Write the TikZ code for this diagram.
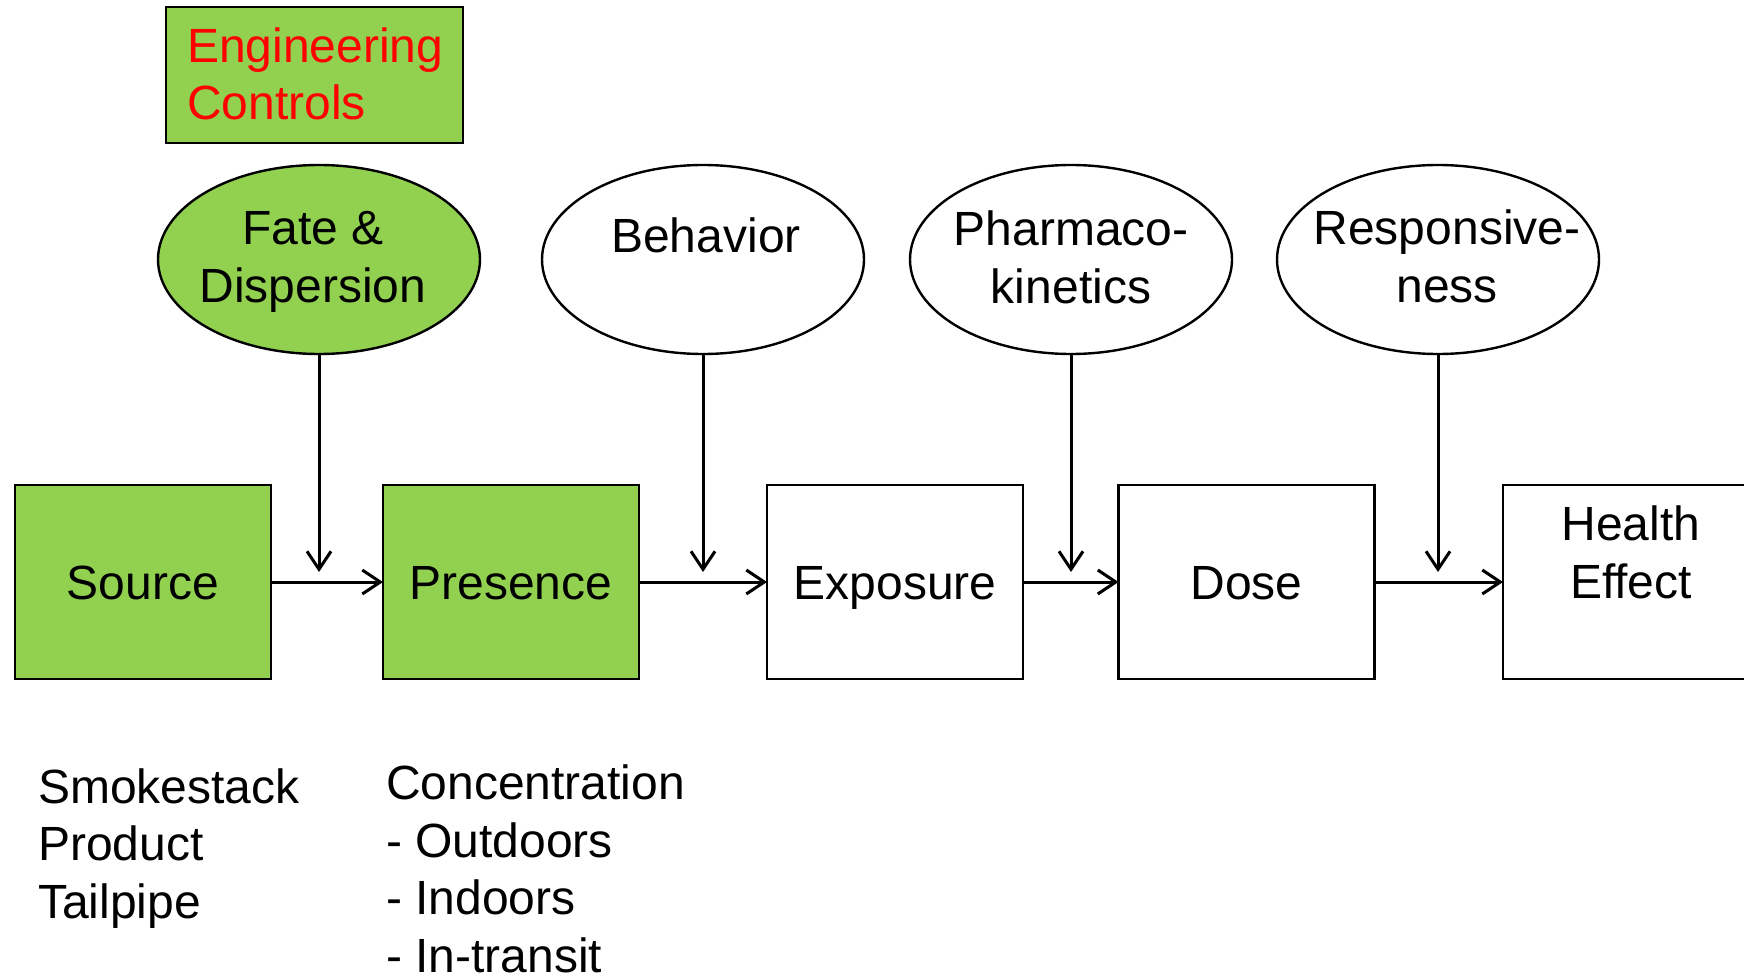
\documentclass[tikz,border=0pt]{standalone}
\usepackage{fontspec}
\setmainfont{Liberation Sans}
\usetikzlibrary{shapes.geometric,arrows.meta}
\definecolor{leafgreen}{HTML}{92D050}
\begin{document}
\begin{tikzpicture}[x=1pt,y=-1pt,
  every node/.style={font=\fontsize{48}{57.5}\selectfont, inner sep=0pt, outer sep=0pt},
  stagebox/.style={draw=black, line width=2.5pt, rectangle,
    minimum width=256pt, minimum height=194pt, text height=35pt, text depth=0pt},
  factor/.style={draw=black, line width=2.4pt, ellipse,
    minimum width=322pt, minimum height=189pt},
  hot/.style={fill=leafgreen},
  caption/.style={align=center, anchor=base},
  listing/.style={align=left, anchor=base west},
  flow/.style={line width=3pt, -{Straight Barb[length=18pt,width=24pt]}}]

\useasboundingbox (0,0) rectangle (1744,976);
\clip (0,0) rectangle (1744,976);
\fill[white] (0,0) rectangle (1744,976);

% control measure (multi-line nodes are placed by their last baseline)
\node[draw=black, line width=2.5pt, fill=leafgreen, minimum width=297pt,
  minimum height=136pt] (eng) at (314.5,75) {};
\node[listing, text=red] (engtxt) at (187,120) {Engineering\\Controls};

% modifying factors
\node[factor, hot] (fate) at (319,259.5) {};
\node[caption] (fatetxt) at (313,302) {Fate \&\\Dispersion};
\node[factor] (behavior) at (703,259.5) {};
\node[caption] (behaviortxt) at (706,252) {Behavior};
\node[factor] (pk) at (1071,259.5) {};
\node[caption] (pktxt) at (1071,303) {Pharmaco-\\kinetics};
\node[factor] (resp) at (1438,259.5) {};
\node[caption] (resptxt) at (1447,302) {Responsive-\\ness};

% source-to-effect chain
\node[stagebox, hot] (source) at (143,582) {Source};
\node[stagebox, hot] (presence) at (511,582) {Presence};
\node[stagebox] (exposure) at (895,582) {Exposure};
\node[stagebox] (dose) at (1246.5,582) {Dose};
\node[stagebox] (health) at (1631,582) {};
\node[caption] (healthtxt) at (1631,598) {Health\\Effect};

\draw[flow] (source.east) -- (presence.west);
\draw[flow] (presence.east) -- (exposure.west);
\draw[flow] (exposure.east) -- (dose.west);
\draw[flow] (dose.east) -- (health.west);

\coordinate (fatedrop) at (319,572);
\coordinate (behaviordrop) at (703,572);
\coordinate (pkdrop) at (1071,572);
\coordinate (respdrop) at (1438,572);
\draw[flow] (fate.south) -- (fatedrop);
\draw[flow] (behavior.south) -- (behaviordrop);
\draw[flow] (pk.south) -- (pkdrop);
\draw[flow] (resp.south) -- (respdrop);

% examples under the first two stages
\node[listing] (sources) at (38,918) {Smokestack\\Product\\Tailpipe};
\node[listing] (levels) at (386,972) {Concentration\\- Outdoors\\- Indoors\\- In-transit};
\end{tikzpicture}
\end{document}
